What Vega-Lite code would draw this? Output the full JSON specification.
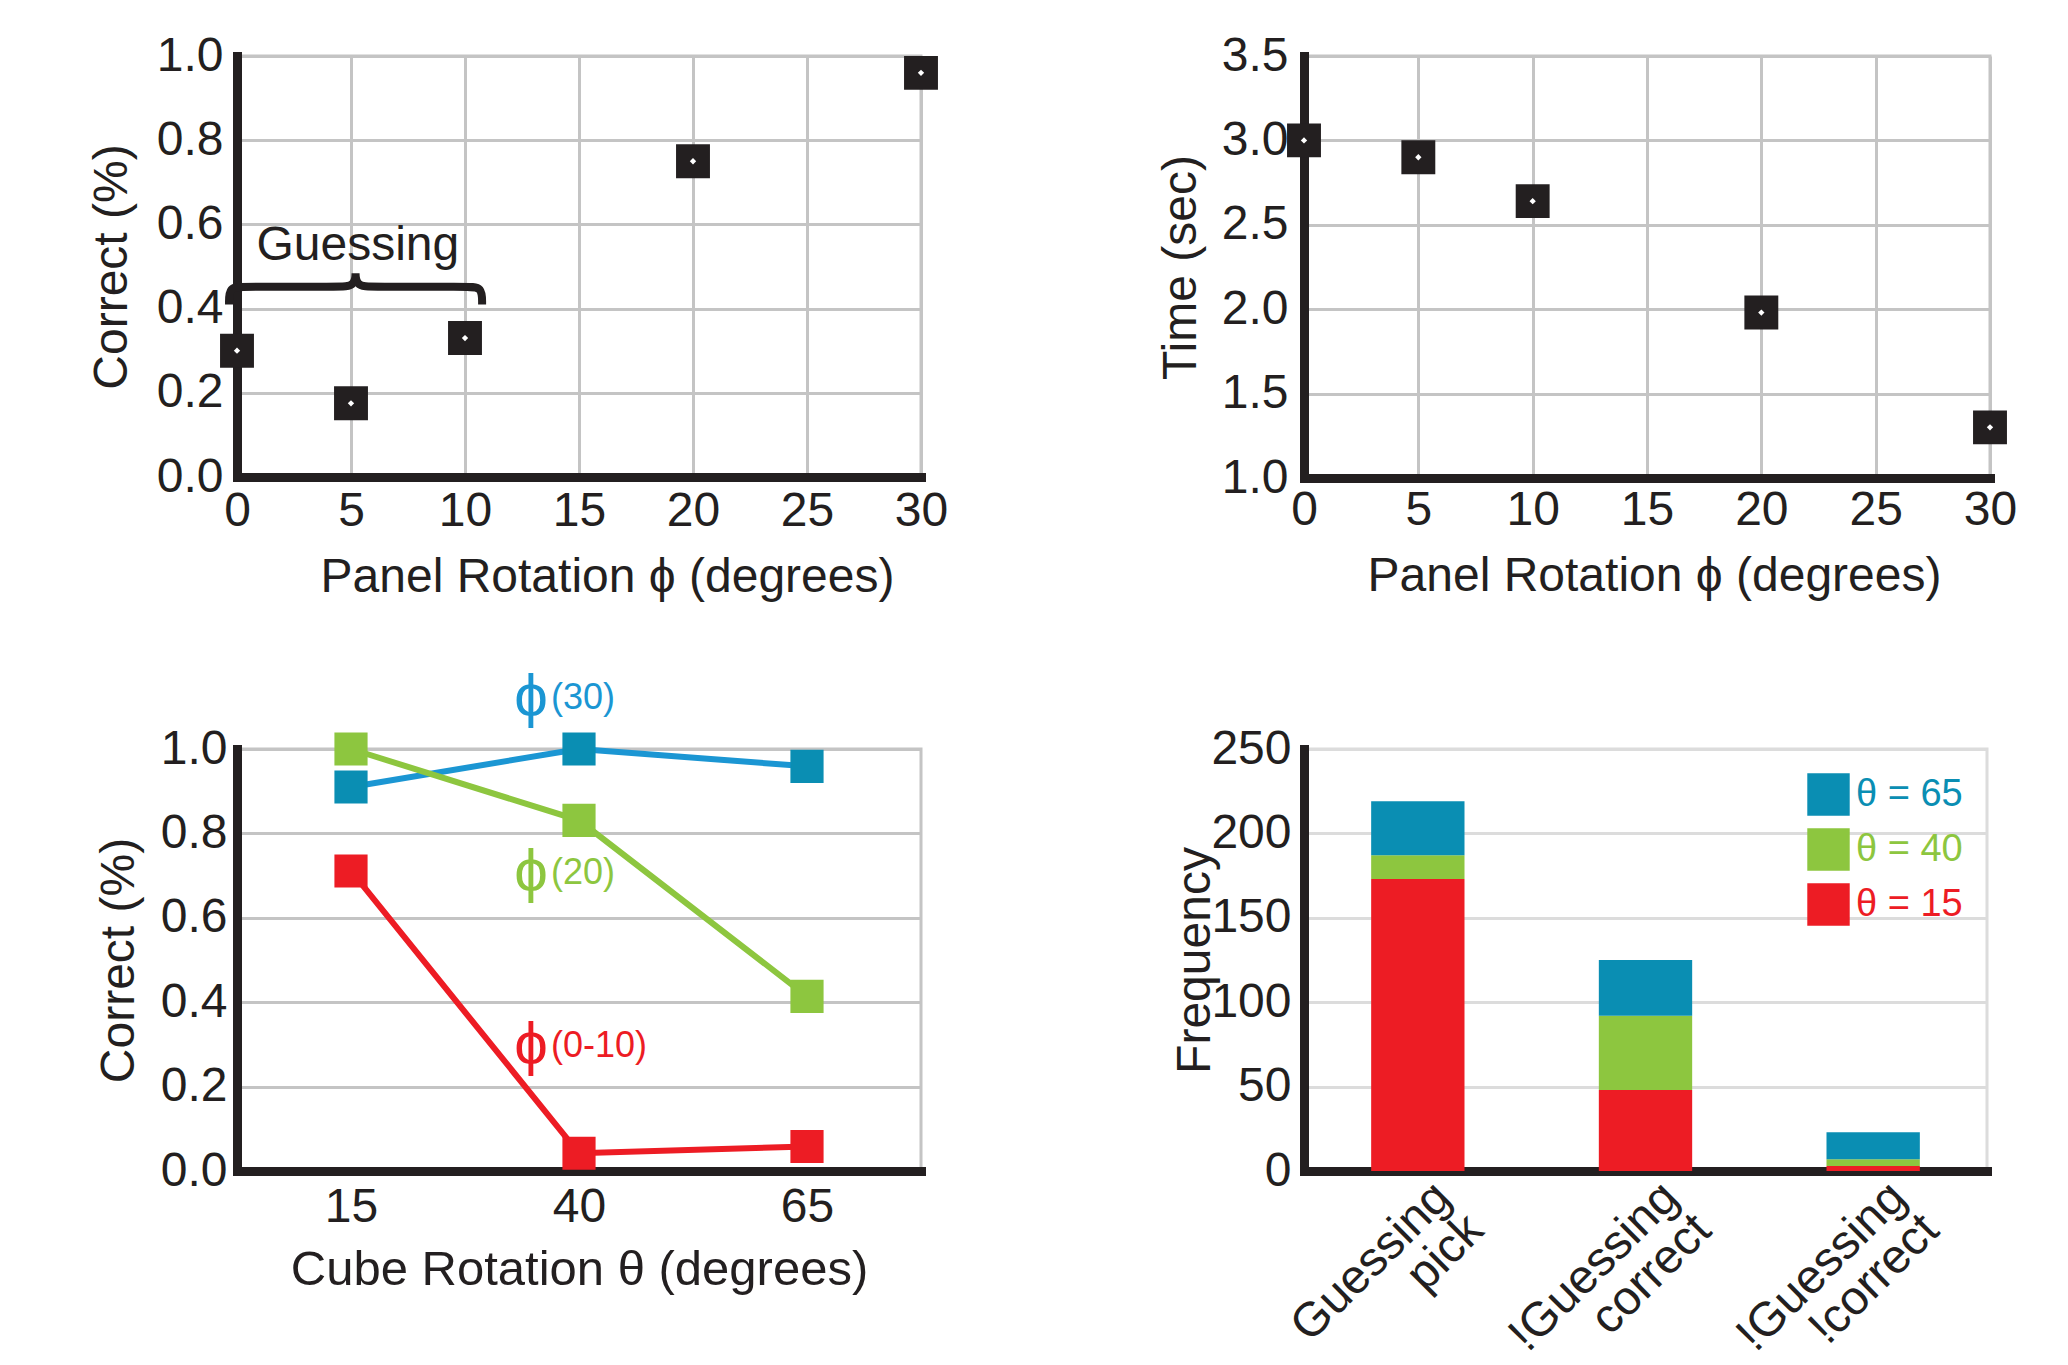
{
  "$schema": "https://vega.github.io/schema/vega-lite/v6.json",
  "background": "white",
  "padding": {"left": 86, "top": 30, "right": 10, "bottom": 0},
  "config": {
    "font": "Liberation Sans",
    "view": {"stroke": "#c4c4c4", "strokeWidth": 3},
    "axis": {
      "domainColor": "#231f20", "domainWidth": 9, "domainCap": "square",
      "ticks": false, "tickSize": 0,
      "gridColor": "#c4c4c4", "gridWidth": 3,
      "labelFont": "Liberation Sans", "titleFont": "Liberation Sans",
      "labelFontSize": 48, "titleFontSize": 48,
      "labelColor": "#231f20", "titleColor": "#231f20",
      "titleFontWeight": "normal", "labelPadding": 12,
      "labelFlush": false, "labelOverlap": false, "labelBound": false, "labelLimit": 0
    }
  },
  "columns": 2,
  "spacing": {"row": 63, "column": 205},
  "resolve": {"scale": {"color": "independent", "fill": "independent"}, "legend": {"color": "independent"}},
  "concat": [
    {
      "width": 684, "height": 421,
      "layer": [
        {
          "data": {"values": [
            {"phi": 0, "correct": 0.30}, {"phi": 5, "correct": 0.175}, {"phi": 10, "correct": 0.33},
            {"phi": 20, "correct": 0.75}, {"phi": 30, "correct": 0.96}
          ]},
          "mark": {"type": "point", "shape": "square", "filled": true, "color": "#231f20", "opacity": 1, "size": 1150},
          "encoding": {
            "x": {"field": "phi", "type": "quantitative", "scale": {"domain": [0, 30], "nice": false},
                  "axis": {"values": [0, 5, 10, 15, 20, 25, 30], "title": "Panel Rotation ϕ (degrees)", "labelPadding": 10, "titlePadding": 18, "titleX": 370}},
            "y": {"field": "correct", "type": "quantitative", "scale": {"domain": [0, 1], "nice": false},
                  "axis": {"values": [0, 0.2, 0.4, 0.6, 0.8, 1.0], "format": ".1f", "title": "Correct (%)", "labelPadding": 14, "titlePadding": 20}}
          }
        },
        {
          "data": {"values": [
            {"phi": 0, "correct": 0.30}, {"phi": 5, "correct": 0.175}, {"phi": 10, "correct": 0.33},
            {"phi": 20, "correct": 0.75}, {"phi": 30, "correct": 0.96}
          ]},
          "mark": {"type": "point", "shape": "diamond", "filled": true, "color": "white", "opacity": 1, "size": 40},
          "encoding": {
            "x": {"field": "phi", "type": "quantitative"},
            "y": {"field": "correct", "type": "quantitative"}
          }
        },
        {
          "data": {"values": [
            {"i": 0, "phi": -0.35, "correct": 0.41}, {"i": 1, "phi": -0.35, "correct": 0.452},
            {"i": 2, "phi": 0.3, "correct": 0.452}, {"i": 3, "phi": 4.5, "correct": 0.452},
            {"i": 4, "phi": 5.2, "correct": 0.452}, {"i": 5, "phi": 5.2, "correct": 0.5},
            {"i": 6, "phi": 5.2, "correct": 0.452}, {"i": 7, "phi": 5.9, "correct": 0.452},
            {"i": 8, "phi": 10.1, "correct": 0.452}, {"i": 9, "phi": 10.75, "correct": 0.452},
            {"i": 10, "phi": 10.75, "correct": 0.41}
          ]},
          "mark": {"type": "line", "interpolate": "basis", "color": "#231f20", "strokeWidth": 8},
          "encoding": {
            "x": {"field": "phi", "type": "quantitative"},
            "y": {"field": "correct", "type": "quantitative"},
            "order": {"field": "i", "type": "quantitative"}
          }
        },
        {
          "data": {"values": [{"phi": 5.3, "correct": 0.516, "label": "Guessing"}]},
          "mark": {"type": "text", "fontSize": 48, "color": "#231f20", "baseline": "alphabetic", "font": "Liberation Sans"},
          "encoding": {
            "x": {"field": "phi", "type": "quantitative"},
            "y": {"field": "correct", "type": "quantitative"},
            "text": {"field": "label"}
          }
        }
      ]
    },
    {
      "width": 686, "height": 422,
      "layer": [
        {
          "data": {"values": [
            {"phi": 0, "time": 3.0}, {"phi": 5, "time": 2.9}, {"phi": 10, "time": 2.64},
            {"phi": 20, "time": 1.98}, {"phi": 30, "time": 1.30}
          ]},
          "mark": {"type": "point", "shape": "square", "filled": true, "color": "#231f20", "opacity": 1, "size": 1150},
          "encoding": {
            "x": {"field": "phi", "type": "quantitative", "scale": {"domain": [0, 30], "nice": false},
                  "axis": {"values": [0, 5, 10, 15, 20, 25, 30], "title": "Panel Rotation ϕ  (degrees)", "labelPadding": 8, "titlePadding": 18, "titleX": 350}},
            "y": {"field": "time", "type": "quantitative", "scale": {"domain": [1, 3.5], "nice": false, "zero": false},
                  "axis": {"values": [1.0, 1.5, 2.0, 2.5, 3.0, 3.5], "format": ".1f", "title": "Time (sec)", "labelPadding": 16, "titlePadding": 16}}
          }
        },
        {
          "data": {"values": [
            {"phi": 0, "time": 3.0}, {"phi": 5, "time": 2.9}, {"phi": 10, "time": 2.64},
            {"phi": 20, "time": 1.98}, {"phi": 30, "time": 1.30}
          ]},
          "mark": {"type": "point", "shape": "diamond", "filled": true, "color": "white", "opacity": 1, "size": 40},
          "encoding": {
            "x": {"field": "phi", "type": "quantitative"},
            "y": {"field": "time", "type": "quantitative"}
          }
        }
      ]
    },
    {
      "width": 684, "height": 422,
      "layer": [
        {
          "data": {"values": [
            {"theta": "15", "series": "30", "correct": 0.91}, {"theta": "40", "series": "30", "correct": 1.0}, {"theta": "65", "series": "30", "correct": 0.959},
            {"theta": "15", "series": "20", "correct": 1.0}, {"theta": "40", "series": "20", "correct": 0.831}, {"theta": "65", "series": "20", "correct": 0.414},
            {"theta": "15", "series": "0-10", "correct": 0.711}, {"theta": "40", "series": "0-10", "correct": 0.042}, {"theta": "65", "series": "0-10", "correct": 0.058}
          ]},
          "mark": {"type": "line", "strokeWidth": 6},
          "encoding": {
            "x": {"field": "theta", "type": "ordinal", "scale": {"type": "band", "domain": ["15", "40", "65"], "paddingInner": 0, "paddingOuter": 0},
                  "axis": {"tickBand": "extent", "labelAngle": 0, "title": "Cube Rotation θ (degrees)", "labelPadding": 12, "titlePadding": 14, "titleFontSize": 49}},
            "y": {"field": "correct", "type": "quantitative", "scale": {"domain": [0, 1], "nice": false},
                  "axis": {"values": [0, 0.2, 0.4, 0.6, 0.8, 1.0], "format": ".1f", "title": "Correct (%)", "labelPadding": 10, "titlePadding": 17}},
            "color": {"field": "series", "type": "nominal", "scale": {"domain": ["30", "20", "0-10"], "range": ["#1b96d3", "#8dc63f", "#ed1c24"]}, "legend": null}
          }
        },
        {
          "data": {"values": [
            {"theta": "15", "series": "30", "correct": 0.91}, {"theta": "40", "series": "30", "correct": 1.0}, {"theta": "65", "series": "30", "correct": 0.959},
            {"theta": "15", "series": "20", "correct": 1.0}, {"theta": "40", "series": "20", "correct": 0.831}, {"theta": "65", "series": "20", "correct": 0.414},
            {"theta": "15", "series": "0-10", "correct": 0.711}, {"theta": "40", "series": "0-10", "correct": 0.042}, {"theta": "65", "series": "0-10", "correct": 0.058}
          ]},
          "mark": {"type": "point", "shape": "square", "filled": true, "opacity": 1, "size": 1100},
          "encoding": {
            "x": {"field": "theta", "type": "ordinal"},
            "y": {"field": "correct", "type": "quantitative"},
            "fill": {"field": "series", "type": "nominal", "scale": {"domain": ["30", "20", "0-10"], "range": ["#0a8eb3", "#8dc63f", "#ed1c24"]}, "legend": null}
          }
        },
        {
          "data": {"values": [
            {"theta": "40", "series": "30", "y": 1.12, "sym": "ϕ", "sub": "(30)"},
            {"theta": "40", "series": "20", "y": 0.707, "sym": "ϕ", "sub": "(20)"},
            {"theta": "40", "series": "0-10", "y": 0.296, "sym": "ϕ", "sub": "(0-10)"}
          ]},
          "mark": {"type": "text", "fontSize": 60, "dx": -48, "baseline": "middle", "font": "Liberation Sans"},
          "encoding": {
            "x": {"field": "theta", "type": "ordinal"},
            "y": {"field": "y", "type": "quantitative"},
            "text": {"field": "sym"},
            "color": {"field": "series", "type": "nominal"}
          }
        },
        {
          "data": {"values": [
            {"theta": "40", "series": "30", "y": 1.12, "sym": "ϕ", "sub": "(30)"},
            {"theta": "40", "series": "20", "y": 0.707, "sym": "ϕ", "sub": "(20)"},
            {"theta": "40", "series": "0-10", "y": 0.296, "sym": "ϕ", "sub": "(0-10)"}
          ]},
          "mark": {"type": "text", "fontSize": 36, "dx": -28, "align": "left", "baseline": "middle", "font": "Liberation Sans"},
          "encoding": {
            "x": {"field": "theta", "type": "ordinal"},
            "y": {"field": "y", "type": "quantitative"},
            "text": {"field": "sub"},
            "color": {"field": "series", "type": "nominal"}
          }
        }
      ]
    },
    {
      "width": 683, "height": 422,
      "view": {"stroke": "#dcdcdc", "strokeWidth": 3},
      "data": {"values": [
        {"cat": "Guessing|pick", "theta": "θ = 15", "ord": 1, "freq": 173},
        {"cat": "Guessing|pick", "theta": "θ = 40", "ord": 2, "freq": 14},
        {"cat": "Guessing|pick", "theta": "θ = 65", "ord": 3, "freq": 32},
        {"cat": "!Guessing|correct", "theta": "θ = 15", "ord": 1, "freq": 48},
        {"cat": "!Guessing|correct", "theta": "θ = 40", "ord": 2, "freq": 44},
        {"cat": "!Guessing|correct", "theta": "θ = 65", "ord": 3, "freq": 33},
        {"cat": "!Guessing|!correct", "theta": "θ = 15", "ord": 1, "freq": 3},
        {"cat": "!Guessing|!correct", "theta": "θ = 40", "ord": 2, "freq": 4},
        {"cat": "!Guessing|!correct", "theta": "θ = 65", "ord": 3, "freq": 16}
      ]},
      "mark": {"type": "bar", "width": {"band": 0.41}},
      "encoding": {
        "x": {"field": "cat", "type": "nominal",
              "scale": {"type": "band", "domain": ["Guessing|pick", "!Guessing|correct", "!Guessing|!correct"], "paddingInner": 0, "paddingOuter": 0},
              "axis": {"tickBand": "extent", "gridColor": "#dcdcdc", "labelAngle": -45, "labelAlign": "right", "labelBaseline": "top",
                       "labelExpr": "split(datum.label, '|')", "labelLineHeight": 46, "labelOffset": 8, "labelPadding": 2, "labelLimit": 0, "title": null}},
        "y": {"field": "freq", "type": "quantitative", "stack": "zero", "scale": {"domain": [0, 250], "nice": false},
              "axis": {"values": [0, 50, 100, 150, 200, 250], "gridColor": "#dcdcdc", "title": "Frequency", "labelPadding": 13, "titlePadding": -9}},
        "color": {"field": "theta", "type": "nominal",
                  "scale": {"domain": ["θ = 65", "θ = 40", "θ = 15"], "range": ["#0a8eb3", "#8dc63f", "#ed1c24"]},
                  "legend": {"title": null, "orient": "top-right", "offset": 24, "padding": 0, "symbolType": "square", "symbolSize": 1800,
                             "symbolStrokeWidth": 0, "labelFontSize": 38, "labelFont": "Liberation Sans", "rowPadding": 12, "labelOffset": 6, "labelLimit": 0,
                             "encode": {"labels": {"update": {"fill": {"signal": "datum.value === 'θ = 65' ? '#0a8eb3' : (datum.value === 'θ = 40' ? '#8dc63f' : '#ed1c24')"}}}}}},
        "order": {"field": "ord", "type": "quantitative"}
      }
    }
  ]
}
